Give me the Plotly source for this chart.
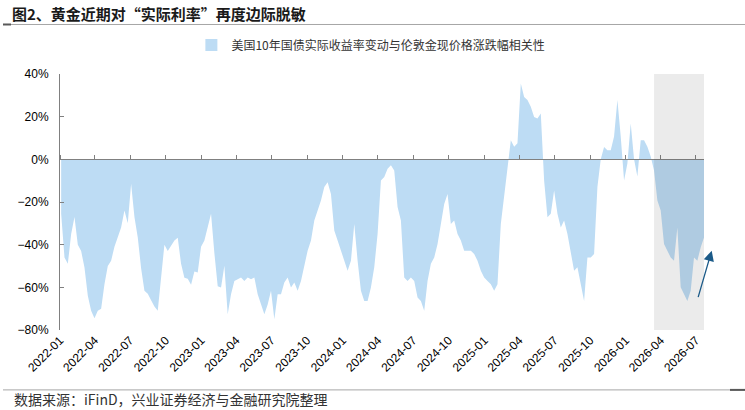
import pandas as pd
import plotly.graph_objects as go

title_text = "图2、黄金近期对“实际利率”再度边际脱敏"
series_name = "美国10年国债实际收益率变动与伦敦金现价格涨跌幅相关性"
source_text = "数据来源：iFinD，兴业证券经济与金融研究院整理"

start_date = "2022-01-04"
end_date = "2026-07-22"

# correlation values (%) at a regular spacing
values_2022 = [
    -25.5, -46, -49, -35, -27, -40, -43, -50.7, -64, -71, -74.5, -71, -70, -58.5, -50, -47.5,
    -41, -36.5, -32, -24, -30, -11.4, -27, -36.6, -51, -61.6, -63, -66, -69, -71, -55, -40,
    -43, -40.8, -38, -36.8, -49, -55.5, -56, -58.8, -52.6, -53, -41, -38, -32, -25.5, -44, -59.5,
]
values_2023 = [
    -60.1, -49.9, -72.6, -63.2, -57, -56.2, -55.4, -57, -55.4, -56.2, -55.4, -63.2, -68, -72.6, -68, -61.6,
    -75, -63.2, -63.2, -57.7, -55.4, -60.1, -57.7, -61.6, -57, -49.1, -42.8, -38.1, -28.7, -24, -19.3, -13,
    -10.7, -16.2, -33.4, -38.1, -42.8, -47.5, -52.2, -47.5, -30.3, -47.5, -61.6, -66.4, -66.4, -60.1, -50.6, -35,
]
values_2024 = [
    -9.9, -8.3, -4.4, -2.8, -5.2, -22.4, -28.7, -55.4, -57, -55.4, -57, -64.8, -66.4, -71, -57, -49,
    -46, -39.7, -30.3, -20.9, -16.2, -30.3, -28.7, -35, -38.1, -42.8, -42.8, -42.8, -44.4, -47.5, -52.2, -55.4,
    -57, -58.5, -61.6, -58.5, -30.3, -17.7, -5.2, 8.9, 5.9, 7.5, 35.6, 29.2, 27.8, 24.6, 19.9, 19.1,
]
values_2025 = [
    21.5, -9.9, -27.1, -25.5, -14.6, -25.5, -32, -28.7, -35, -42.8, -52.2, -50.6, -58.5, -66.4, -46, -46,
    -44.4, -13, 0, 5.8, 4.2, 4.2, 10.7, 27.8, 10.7, -9.9, -2, 16.8, 0, -8, 9, 9,
    5.9, 1.3, -5.2, -19.3, -24, -39.7, -42.8, -46, -47.5, -32, -60, -63.2, -66.4, -61.6, -46, -47.5,
    -41.3, -36.6,
]
values = values_2022 + values_2023 + values_2024 + values_2025
dates = pd.date_range(start_date, end_date, periods=len(values))

axis_start = "2022-01-01"
axis_end = "2026-07-22"
shade_start = "2026-03-15"
y_min, y_max = -80, 40

fill_color = "#BDDCF4"
axis_color = "#808080"
font_family = "Liberation Sans, Noto Sans CJK SC, sans-serif"
cjk_family = "Noto Sans CJK SC, Liberation Sans, sans-serif"

fig = go.Figure()
fig.add_trace(go.Scatter(
    x=dates, y=values, mode="lines", fill="tozeroy",
    fillcolor=fill_color, line=dict(width=0, color=fill_color),
    showlegend=False, hoverinfo="x+y",
))
# zero line with quarterly ticks
fig.add_trace(go.Scatter(
    x=[dates[0]], y=[0], xaxis="x2", mode="markers",
    marker=dict(opacity=0), showlegend=False, hoverinfo="skip",
))
# legend entry
fig.add_trace(go.Bar(x=[None], y=[None], name=series_name,
                     marker=dict(color=fill_color, line=dict(width=0))))

fig.add_shape(type="rect", xref="x", yref="y", x0=shade_start, x1=axis_end,
              y0=y_min, y1=y_max, fillcolor="rgba(55,55,55,0.1)",
              line=dict(width=0), layer="above")

# decorative rules
fig.add_shape(type="line", xref="paper", yref="paper", x0=-0.0885, x1=1.0637,
              y0=1.1934, y1=1.1934, line=dict(color="#A6A6A6", width=1))
fig.add_shape(type="line", xref="paper", yref="paper", x0=-0.0885, x1=-0.0761,
              y0=1.1934, y1=1.1934, line=dict(color="#595959", width=2))
fig.add_shape(type="line", xref="paper", yref="paper", x0=-0.0885, x1=1.0637,
              y0=-0.234, y1=-0.234, line=dict(color="#A6A6A6", width=1))
fig.add_shape(type="line", xref="paper", yref="paper", x0=1.0404, x1=1.0637,
              y0=-0.234, y1=-0.234, line=dict(color="#595959", width=2))

fig.add_annotation(xref="paper", yref="paper", x=1.012, y=0.31, ax=-14, ay=48,
                   text="", showarrow=True, arrowhead=2, arrowsize=1.6,
                   arrowwidth=1.3, arrowcolor="#1B5A88")

fig.add_annotation(xref="paper", yref="paper", x=-0.074, y=-0.27,
                   xanchor="left", yanchor="middle", showarrow=False,
                   text=source_text, font=dict(family=cjk_family, size=14, color="#333333"))

fig.update_layout(
    width=745, height=410,
    margin=dict(l=60, r=41, t=74, b=80),
    paper_bgcolor="white", plot_bgcolor="white",
    font=dict(family=font_family, size=12, color="#000000"),
    title=dict(text="<b>" + title_text + "</b>", x=0.016, y=0.964, xref="container",
               yref="container", xanchor="left", yanchor="middle",
               font=dict(family=cjk_family, size=15, color="#1A1A1A")),
    showlegend=True,
    legend=dict(orientation="h", x=0.204, y=1.113, xanchor="left", yanchor="middle",
                font=dict(family=cjk_family, size=12, color="#333333"),
                bgcolor="rgba(0,0,0,0)"),
    xaxis=dict(type="date", range=[axis_start, axis_end], tick0=axis_start, dtick="M3",
               tickformat="%Y-%m", tickangle=-45, showline=False, ticks="",
               showgrid=False, zeroline=False, tickfont=dict(size=12)),
    xaxis2=dict(type="date", overlaying="x", matches="x", anchor="free",
                position=(0 - y_min) / (y_max - y_min), side="top",
                tick0=axis_start, dtick="M3", showticklabels=False,
                showline=True, linecolor=axis_color, linewidth=1,
                ticks="outside", ticklen=4, tickcolor=axis_color,
                showgrid=False, zeroline=False),
    yaxis=dict(range=[y_min, y_max], dtick=20, ticksuffix="%", showline=True,
               linecolor=axis_color, linewidth=1, ticks="inside", ticklen=4,
               tickcolor=axis_color, showgrid=False, zeroline=False,
               ticklabelstandoff=8, tickfont=dict(size=12)),
)

fig.write_html("out.html")
